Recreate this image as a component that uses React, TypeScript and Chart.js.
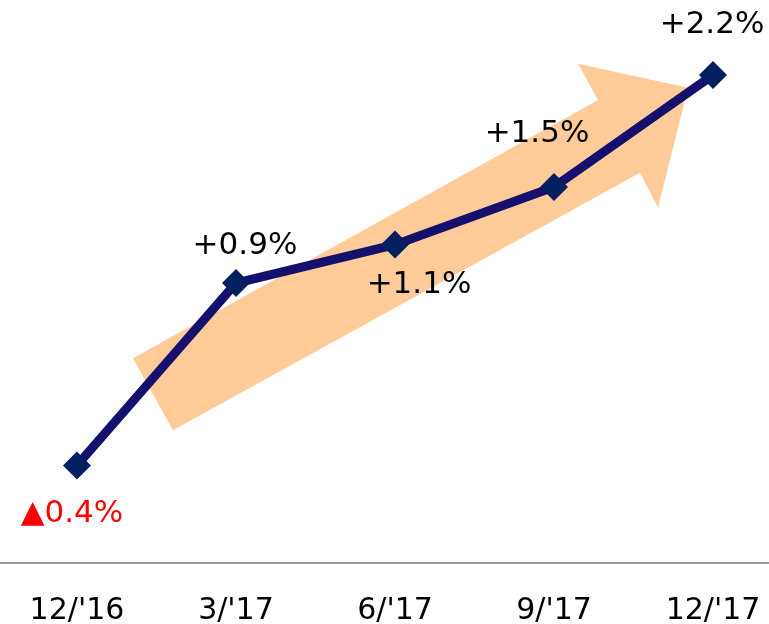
import React, { useEffect, useRef } from "react";
import { Chart, registerables } from "chart.js";

Chart.register(...registerables);

const categories = ["12/'16", "3/'17", "6/'17", "9/'17", "12/'17"];
const values = [-0.24, 0.9, 1.14, 1.5, 2.2];
const valueLabels = ["▲0.4%", "+0.9%", "+1.1%", "+1.5%", "+2.2%"];
const labelColors = ["#FF0000", "#000000", "#000000", "#000000", "#000000"];
const labelOffsets = [
  [-5, 49],
  [9, -37],
  [24, 40],
  [-17, -53],
  [-1, -50],
];
// arrow outline in data space (x index, y value)
const arrowX = [0.352, 3.277, 3.151, 3.843, 3.654, 3.541, 0.604];
const arrowY = [0.43, 2.044, 2.27, 2.12, 1.37, 1.59, -0.02];

const FONT = "'DejaVu Sans', Verdana, sans-serif";

const arrowPlugin = {
  id: "arrowBg",
  beforeDatasetsDraw(chart: any) {
    const { ctx, scales } = chart;
    const xs = scales.x;
    const ys = scales.y;
    ctx.save();
    ctx.beginPath();
    arrowX.forEach((ax, i) => {
      const px = xs.getPixelForValue(ax);
      const py = ys.getPixelForValue(arrowY[i]);
      if (i === 0) ctx.moveTo(px, py);
      else ctx.lineTo(px, py);
    });
    ctx.closePath();
    ctx.fillStyle = "#FFCC99";
    ctx.fill();
    ctx.restore();
  },
};

const labelPlugin = {
  id: "valueLabels",
  afterDatasetsDraw(chart: any) {
    const { ctx } = chart;
    const meta = chart.getDatasetMeta(0);
    ctx.save();
    ctx.font = `31px ${FONT}`;
    ctx.textAlign = "center";
    ctx.textBaseline = "middle";
    meta.data.forEach((pt: any, i: number) => {
      ctx.fillStyle = labelColors[i];
      ctx.fillText(valueLabels[i], pt.x + labelOffsets[i][0], pt.y + labelOffsets[i][1]);
    });
    ctx.restore();
  },
};

export default function App() {
  const ref = useRef<HTMLCanvasElement>(null);
  useEffect(() => {
    if (!ref.current) return;
    const chart = new Chart(ref.current, {
      type: "line",
      data: {
        datasets: [
          {
            data: values.map((v, i) => ({ x: i, y: v })),
            borderColor: "#15106E",
            borderWidth: 9,
            pointStyle: "rectRot",
            pointRadius: 14,
            pointBackgroundColor: "#022060",
            pointBorderColor: "#022060",
            pointBorderWidth: 0,
            tension: 0,
            clip: false,
          },
        ],
      },
      options: {
        animation: false,
        responsive: true,
        maintainAspectRatio: false,
        layout: { padding: 0, autoPadding: false },
        plugins: { legend: { display: false }, tooltip: { enabled: false } },
        scales: {
          x: {
            type: "linear",
            min: -0.484,
            max: 4.352,
            grid: { display: false },
            border: { display: true, color: "#999999", width: 2 },
            afterBuildTicks(axis: any) {
              axis.ticks = categories.map((_, i) => ({ value: i }));
            },
            afterFit(axis: any) {
              axis.height = 61;
              axis.paddingLeft = 0;
              axis.paddingRight = 0;
            },
            ticks: {
              color: "#000000",
              padding: 22,
              font: { size: 30, family: FONT },
              maxRotation: 0,
              autoSkip: false,
              callback: (v: any) => categories[v as number] ?? "",
            },
          },
          y: {
            display: false,
            min: -0.85,
            max: 2.669,
          },
        },
      },
      plugins: [arrowPlugin, labelPlugin],
    });
    return () => chart.destroy();
  }, []);
  return (
    <div style={{ position: "fixed", left: 0, top: 0, width: 769, height: 624, background: "#fff" }}>
      <canvas ref={ref} />
    </div>
  );
}
